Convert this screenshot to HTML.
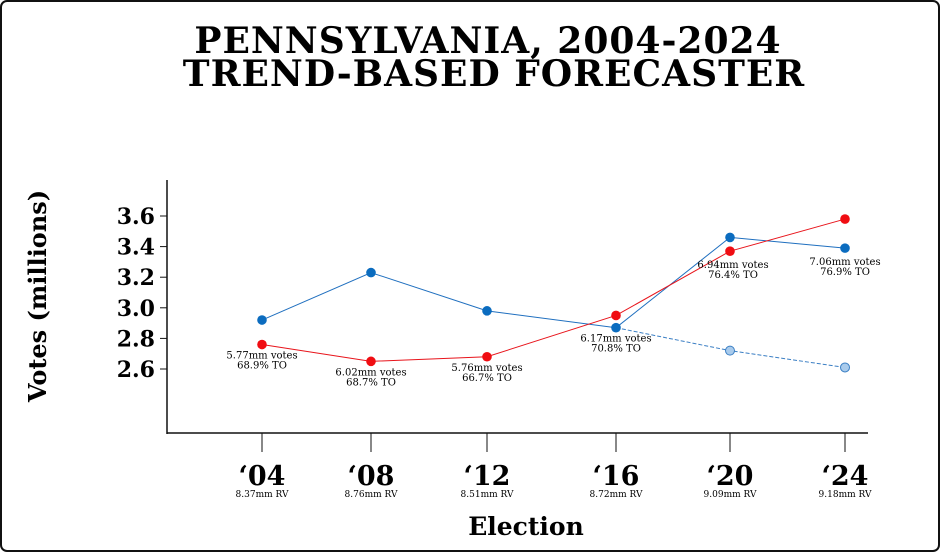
<!DOCTYPE html>
<html><head><meta charset="utf-8"><style>
html,body{margin:0;padding:0;background:#fff;}
svg{display:block;font-family:"DejaVu Serif","Liberation Serif",serif;}
</style></head><body>
<svg width="940" height="552" viewBox="0 0 940 552">
<rect x="1" y="1" width="938" height="550" rx="6" fill="#fff" stroke="#111" stroke-width="2"/>
<text x="488" y="53" text-anchor="middle" font-size="36" font-weight="bold" letter-spacing="1">PENNSYLVANIA, 2004-2024</text>
<text x="494" y="86" text-anchor="middle" font-size="36" font-weight="bold" letter-spacing="1">TREND-BASED FORECASTER</text>
<g id="axes"></g>
<g id="marks"></g>
<text x="0" y="0" transform="translate(46,296) rotate(-90)" text-anchor="middle" font-size="24" font-weight="bold">Votes (millions)</text>
<text x="526" y="535" text-anchor="middle" font-size="25" font-weight="bold">Election</text>
</svg>
<script>
const categories=["‘04","‘08","‘12","‘16","‘20","‘24"];
const rvLabels=["8.37mm RV","8.76mm RV","8.51mm RV","8.72mm RV","9.09mm RV","9.18mm RV"];
const blueValues=[2.92,3.23,2.98,2.87,3.46,3.39];
const projValues=[null,null,null,2.87,2.72,2.61];
const redValues=[2.76,2.65,2.68,2.95,3.37,3.58];
const voteLabels=["5.77mm votes","6.02mm votes","5.76mm votes","6.17mm votes","6.94mm votes","7.06mm votes"];
const toLabels=["68.9% TO","68.7% TO","66.7% TO","70.8% TO","76.4% TO","76.9% TO"];
const yTicks=[2.6,2.8,3.0,3.2,3.4,3.6];
const NS="http://www.w3.org/2000/svg";
const xPos=[262,371,487,616,730,845];
function x(i){return xPos[i];}
function y(v){return 369-(v-2.6)*153;}
function mk(tag,attrs,parent){const e=document.createElementNS(NS,tag);for(const k in attrs)e.setAttribute(k,attrs[k]);parent.appendChild(e);return e;}
const ax=document.getElementById('axes'),mg=document.getElementById('marks');
let e=mk('line',{x1:167,y1:180,x2:167,y2:434,stroke:'#111','stroke-width':1.5},ax);


e=mk('line',{x1:167,y1:433,x2:868,y2:433,stroke:'#111','stroke-width':1.5},ax);


yTicks.forEach(t=>{
 let l=mk('line',{x1:160,y1:y(t),x2:167,y2:y(t),stroke:'#111'},ax);
 
 
 let tx=mk('text',{x:155,y:y(t)+8,'text-anchor':'end','font-size':22,'font-weight':'bold'},ax);
 tx.textContent=t.toFixed(1);
 
 
});
categories.forEach((c,i)=>{
 let l=mk('line',{x1:x(i),y1:433,x2:x(i),y2:452,stroke:'#111'},ax);
 
 
 let t=mk('text',{x:x(i),y:485,'text-anchor':'middle','font-size':27,'font-weight':'bold'},ax);
 t.textContent=c;
 
 
 let r=mk('text',{x:x(i),y:497,'text-anchor':'middle','font-size':9},ax);
 r.textContent=rvLabels[i];
 
 
});
function line(vals,color,dash,name){
 const pts=[];vals.forEach((v,i)=>{if(v!=null)pts.push(x(i)+','+y(v));});
 let p=mk('polyline',{points:pts.join(' '),fill:'none',stroke:color,'stroke-width':1},mg);
 if(dash)p.setAttribute('stroke-dasharray',dash);
 
 
}
line(projValues,'#3b7fc4','4,2','projection-line');
line(blueValues,'#1f6fbf',null,'blue-line');
line(redValues,'#e8141b',null,'red-line');
projValues.forEach((v,i)=>{if(v==null||i===3)return;
 let c=mk('circle',{cx:x(i),cy:y(v),r:4.5,fill:'#a9cbec',stroke:'#3b7fc4'},mg);
 
 });
blueValues.forEach((v,i)=>{
 let c=mk('circle',{cx:x(i),cy:y(v),r:4.8,fill:'#0b6cbf'},mg);
 
 });
redValues.forEach((v,i)=>{
 let c=mk('circle',{cx:x(i),cy:y(v),r:4.8,fill:'#f00d12'},mg);
 
 });
voteLabels.forEach((s,i)=>{
 let base=(i>=3)?Math.max(y(blueValues[i]),y(redValues[i])):y(redValues[i]);
 let yy=base+(i>=4?17:14);
 let xx=x(i)+(i===4?3:0);
 let a=mk('text',{x:xx,y:yy,'text-anchor':'middle','font-size':10},mg);
 a.textContent=s;
 
 
 let b=mk('text',{x:xx,y:yy+10,'text-anchor':'middle','font-size':10},mg);
 b.textContent=toLabels[i];
 
 
});
</script>
</body></html>
